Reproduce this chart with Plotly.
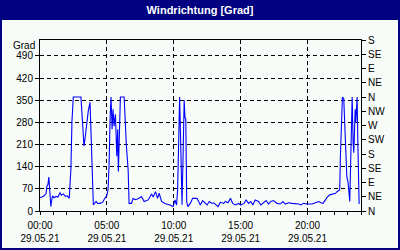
import plotly.graph_objects as go

# ---- data ----
hours = [0.00, 0.15, 0.31, 0.45, 0.51, 0.60, 0.66, 0.72, 0.81, 0.88, 0.94, 1.05, 1.20, 1.35, 1.49, 1.60, 1.75, 1.90,
         2.05, 2.19, 2.31, 2.39, 2.49, 3.06, 3.11, 3.19, 3.29, 3.39, 3.51, 3.61, 3.74, 3.81, 3.89, 3.99, 4.19, 4.31,
         4.50, 4.69, 4.85, 4.99, 5.09, 5.16, 5.24, 5.31, 5.39, 5.46, 5.54, 5.64, 5.74, 5.81, 5.86, 5.94, 6.01, 6.29,
         6.34, 6.46, 6.59, 6.66, 6.84, 6.96, 7.10, 7.30, 7.59, 7.79, 8.09, 8.34, 8.46, 8.64, 8.79, 8.91, 9.09, 9.34,
         9.71, 9.96, 10.09, 10.21, 10.29, 10.36, 10.44, 10.50, 10.56, 10.62, 10.70, 10.78, 10.84, 10.90, 10.97, 11.05,
         11.24, 11.41, 11.74, 11.86, 11.99, 12.16, 12.36, 12.49, 12.66, 12.86, 12.99, 13.16, 13.31, 13.49, 13.74,
         13.86, 14.06, 14.24, 14.41, 14.61, 14.86, 14.99, 15.26, 15.41, 15.59, 15.76, 15.91, 16.09, 16.34, 16.51,
         16.71, 16.91, 17.09, 17.26, 17.46, 17.71, 17.96, 18.16, 18.34, 18.59, 18.84, 19.09, 19.34, 19.51, 19.71,
         19.96, 20.34, 20.59, 20.84, 21.01, 21.16, 21.34, 21.46, 21.66, 21.84, 22.09, 22.21, 22.34, 22.41, 22.46,
         22.54, 22.61, 22.71, 22.79, 22.86, 22.94, 23.04, 23.11, 23.16, 23.21, 23.26, 23.34, 23.41, 23.46, 23.51,
         23.56, 23.61, 23.66, 23.71, 23.76, 23.81, 23.86]
direction = [43, 44, 48, 55, 77, 85, 107, 70, 14, 35, 48, 42, 46, 44, 58, 50, 54, 46,
             48, 40, 133, 284, 360, 360, 321, 247, 205, 236, 280, 316, 343, 226, 99, 19, 30, 24,
             24, 28, 40, 48, 67, 141, 290, 360, 258, 321, 268, 305, 173, 258, 125, 321, 360, 360,
             300, 205, 130, 24, 24, 40, 36, 38, 46, 30, 35, 54, 44, 61, 40, 56, 30, 24,
             19, 14, 35, 19, 67, 280, 360, 250, 100, 20, 180, 350, 295, 290, 30, 14,
             24, 40, 40, 30, 19, 33, 26, 19, 30, 24, 26, 19, 14, 28, 24,
             30, 26, 40, 24, 19, 24, 19, 24, 35, 24, 30, 19, 35, 30, 19,
             26, 33, 22, 30, 33, 24, 22, 30, 22, 26, 24, 24, 22, 19, 24,
             22, 22, 26, 30, 26, 24, 35, 43, 51, 54, 56, 61, 65, 67, 173,
             300, 360, 355, 279, 194, 109, 88, 35, 30, 120, 279, 360, 215, 184, 247,
             321, 279, 332, 360, 226, 130, 22]

y_ticks = [0, 70, 140, 210, 280, 350, 420, 490]
compass_vals = [0, 45, 90, 135, 180, 225, 270, 315, 360, 405, 450, 495, 540]
compass_text = ["N", "NE", "E", "SE", "S", "SW", "W", "NW", "N", "NE", "E", "SE", "S"]
x_ticks = [0, 5, 10, 15, 20]
x_ticktext = ["00:00<br>29.05.21", "05:00<br>29.05.21", "10:00<br>29.05.21",
              "15:00<br>29.05.21", "20:00<br>29.05.21"]

# ---- layout constants ----
W, H = 400, 250
L, R, T, B = 40, 39, 40, 39
pw, ph = W - L - R, H - T - B
def px(x):
    return (x - L) / pw
def py(y):
    return (H - B - y) / ph

FONT = "Liberation Sans, Arial, sans-serif"

fig = go.Figure()
fig.add_trace(go.Scatter(x=hours, y=direction, mode="lines",
                         line=dict(color="#0000FF", width=1.1), hoverinfo="skip",
                         showlegend=False))
fig.add_trace(go.Scatter(x=[None], y=[None], yaxis="y2", mode="lines",
                         showlegend=False, hoverinfo="skip"))

fig.update_layout(
    width=W, height=H,
    margin=dict(l=L, r=R, t=T, b=B, pad=0, autoexpand=False),
    paper_bgcolor="#000080",
    plot_bgcolor="#F8FCF8",
    font=dict(family=FONT, size=10, color="black"),
    title=dict(text="<b>Windrichtung [Grad]</b>", x=0.5, xanchor="center",
               xref="container", yref="container", y=1 - 10 / H, yanchor="middle",
               font=dict(family=FONT, size=11, color="white")),
    xaxis=dict(range=[0, 24], tickmode="array", tickvals=x_ticks, ticktext=x_ticktext,
               ticks="outside", ticklen=3, tickcolor="black", tickwidth=1,
               ticklabelstandoff=2, automargin=False,
               showline=True, linecolor="black", linewidth=1, mirror=True,
               showgrid=True, gridcolor="black", griddash="4px,3px", gridwidth=1,
               zeroline=False, fixedrange=True,
               minor=dict(tickmode="linear", tick0=0, dtick=1, ticks="outside", ticklen=3,
                          tickcolor="black", showgrid=False)),
    yaxis=dict(range=[0, 540], tickmode="array", tickvals=y_ticks,
               ticks="outside", ticklen=4, tickcolor="black", automargin=False,
               showline=True, linecolor="black", linewidth=1, mirror=True,
               showgrid=True, gridcolor="black", griddash="4px,3px", gridwidth=1,
               zeroline=False, fixedrange=True),
    yaxis2=dict(range=[0, 540], overlaying="y", side="right", anchor="x",
                tickmode="array", tickvals=compass_vals, ticktext=compass_text,
                ticks="outside", ticklen=4, tickcolor="black", automargin=False,
                showline=True, linecolor="black", linewidth=1,
                showgrid=False, zeroline=False, fixedrange=True),
    shapes=[dict(type="rect", xref="paper", yref="paper", layer="below",
                 x0=px(2), x1=px(398), y0=py(248), y1=py(20),
                 fillcolor="#F8FCF8", line=dict(width=0))],
    annotations=[dict(text="Grad", xref="paper", yref="paper", x=px(37), y=py(45.5),
                      xanchor="right", yanchor="middle", showarrow=False,
                      font=dict(family=FONT, size=10, color="black"))],
)

fig.write_html("out.html")
